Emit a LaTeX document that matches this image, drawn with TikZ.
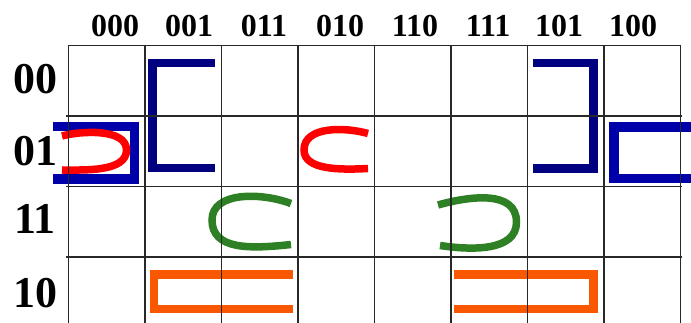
\documentclass[tikz,border=0pt]{standalone}
\usepackage{fontspec}
\setmainfont{Liberation Serif}
\definecolor{navyb}{RGB}{0,0,128}
\definecolor{boxb}{RGB}{0,0,170}
\definecolor{redc}{RGB}{255,0,0}
\definecolor{greenc}{RGB}{45,128,35}
\definecolor{orangec}{RGB}{250,88,0}
\definecolor{gridc}{RGB}{40,40,40}
\tikzset{
  collabel/.style={anchor=base, inner sep=0pt, font=\bfseries\fontsize{32}{32}\selectfont},
  rowlabel/.style={anchor=base, inner sep=0pt, font=\bfseries\fontsize{44}{44}\selectfont},
  gridline/.style={draw=gridc, line width=1.4pt},
  bracket/.style={line width=8.5pt, miter limit=10, line join=miter},
  loopline/.style={line width=7.5pt, line cap=butt},
}
\begin{document}
\begin{tikzpicture}[x=1pt,y=-1pt]
\useasboundingbox (0,0) rectangle (691,323);
% shapes
\draw[bracket, navyb] (215,63) -- (152.5,63) -- (152.5,168) -- (215,168);
\draw[bracket, navyb] (533,63) -- (593.5,63) -- (593.5,168.5) -- (533,168.5);
\draw[bracket, boxb, line width=9.5pt] (53,126.5) -- (134.3,126.5) -- (134.3,179) -- (53,179);
\draw[bracket, boxb, line width=9.5pt] (695,127) -- (614,127) -- (614,178.7) -- (695,178.7);
\draw[bracket, orangec] (293,274.5) -- (154,274.5) -- (154,309) -- (293,309);
\draw[bracket, orangec] (454,274.5) -- (593.5,274.5) -- (593.5,309) -- (454,309);
\draw[loopline, redc] (62,136) .. controls (80,131) and (126.5,128) .. (126.5,150) .. controls (126.5,172) and (85,170) .. (62,170);
\draw[loopline, redc] (368,133.5) .. controls (345,127) and (304,126) .. (304,150) .. controls (304,170) and (340,170) .. (368,168.5);
\draw[loopline, greenc] (291,203.5) .. controls (260,192) and (212,192) .. (212,220) .. controls (212,250) and (250,249) .. (291,244.5);
\draw[loopline, greenc] (438,205) .. controls (470,196) and (516.5,190) .. (516.5,222) .. controls (516.5,252) and (470,250) .. (440,245.5);
% grid
\foreach \i in {0,...,8} {
  \draw[gridline] (68.5+76.5*\i,45.5) -- (68.5+76.5*\i,323);
}
\draw[gridline] (68.5,45.5) -- (680.5,45.5);
\foreach \j in {1,2,3} {
  \draw[gridline] (66,45.5+70.5*\j) -- (682,45.5+70.5*\j);
}
% labels
\node[collabel] (c0) at (115,36.5) {000};
\node[collabel] (c1) at (189,36.5) {001};
\node[collabel] (c2) at (264,36.5) {011};
\node[collabel] (c3) at (340,36.5) {010};
\node[collabel] (c4) at (415,36.5) {110};
\node[collabel] (c5) at (488,36.5) {111};
\node[collabel] (c6) at (559,36.5) {101};
\node[collabel] (c7) at (633,36.5) {100};
\node[rowlabel] (r0) at (35,94) {00};
\node[rowlabel] (r1) at (35,166) {01};
\node[rowlabel] (r2) at (35,234) {11};
\node[rowlabel] (r3) at (35,307) {10};
\end{tikzpicture}
\end{document}
